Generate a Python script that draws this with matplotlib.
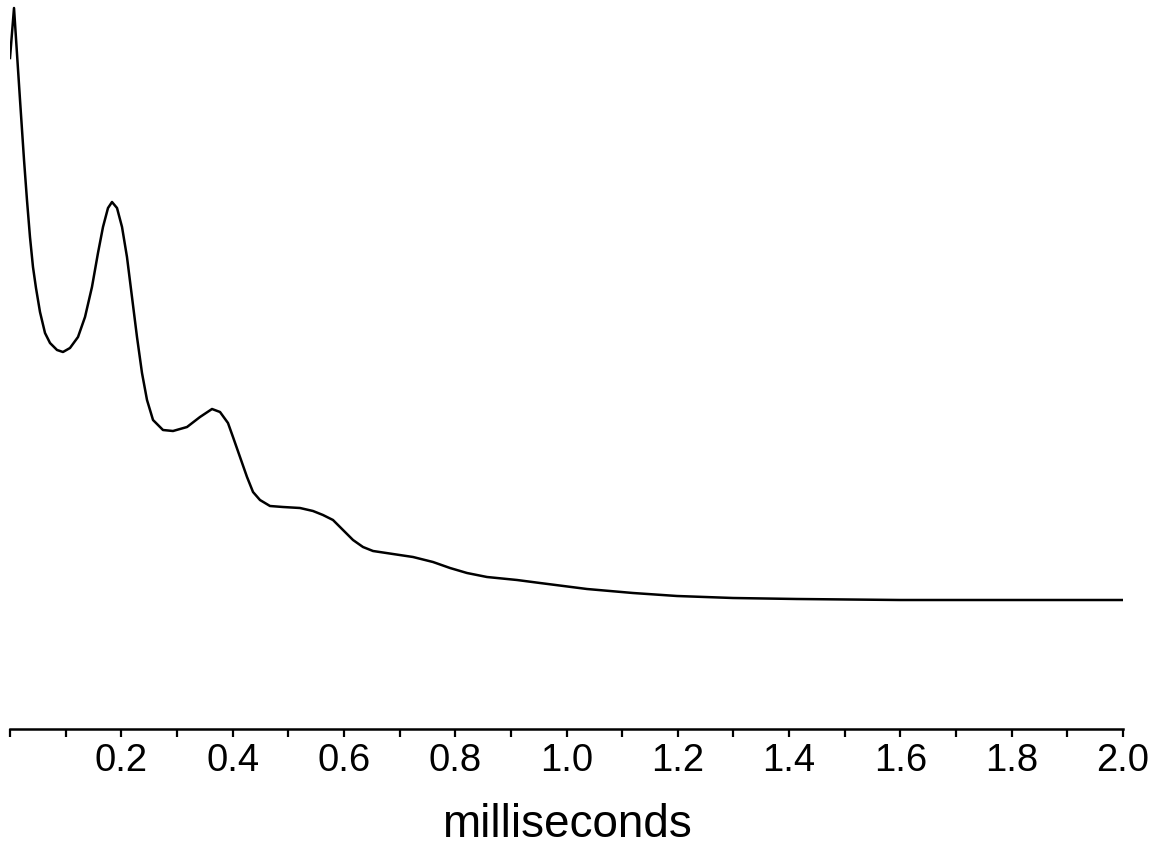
import numpy as np
import matplotlib.pyplot as plt

plt.rcParams['font.family'] = ['Liberation Sans', 'DejaVu Sans']

# time (ms) and signal amplitude (arbitrary units, baseline = 0)
time_ms = [0.0, 0.0072, 0.018, 0.0252, 0.0305, 0.0359, 0.0413, 0.0467, 0.0539, 0.0629, 0.0719,
           0.0845, 0.0952, 0.1078, 0.1222, 0.1348, 0.1473, 0.1581, 0.1671, 0.1761, 0.1833,
           0.1923, 0.2013, 0.2102, 0.2192, 0.2282, 0.2372, 0.2462, 0.2570, 0.2749, 0.2929,
           0.3181, 0.3414, 0.3630, 0.3774, 0.3917, 0.4007, 0.4133, 0.4259, 0.4367, 0.4492,
           0.4672, 0.4906, 0.5211, 0.5445, 0.5624, 0.5804, 0.5984, 0.6164, 0.6343, 0.6523,
           0.6882, 0.7242, 0.7601, 0.7907, 0.8212, 0.8571, 0.9111, 0.9524, 1.0368, 1.1195,
           1.1986, 1.2992, 1.4142, 1.5993, 2.0]
amplitude = [54.2, 59.2, 50.0, 44.0, 40.0, 36.3, 33.3, 31.2, 28.8, 26.7, 25.7,
             25.0, 24.8, 25.2, 26.3, 28.3, 31.3, 34.7, 37.3, 39.2, 39.8,
             39.2, 37.3, 34.3, 30.3, 26.3, 22.7, 20.0, 18.0, 17.0, 16.9,
             17.3, 18.3, 19.1, 18.8, 17.7, 16.3, 14.3, 12.3, 10.8, 10.0,
             9.4, 9.3, 9.2, 8.9, 8.5, 8.0, 7.0, 6.0, 5.3, 4.9,
             4.6, 4.3, 3.8, 3.2, 2.7, 2.3, 2.0, 1.7, 1.1, 0.7,
             0.4, 0.2, 0.1, 0.0, 0.0]

tick_pos = [round(0.1 * i, 1) for i in range(21)]
tick_labels = ["" if (i % 2 == 1 or i == 0) else f"{0.1 * i:.1f}" for i in range(21)]

fig = plt.figure(figsize=(11.62, 8.46), dpi=100)
ax = fig.add_axes([10 / 1162, (846 - 729) / 846, 1113 / 1162, 729 / 846])

ax.plot(time_ms, amplitude, color='black', linewidth=1.8, solid_joinstyle='round')

ax.set_xlim(0, 2.0)
ax.set_ylim(-12.9, 60.0)

for s in ['top', 'right', 'left']:
    ax.spines[s].set_visible(False)
ax.spines['bottom'].set_linewidth(1.8)
ax.set_yticks([])
ax.set_xticks(tick_pos)
ax.set_xticklabels(tick_labels)
ax.tick_params(axis='x', length=6, width=1.6, pad=4, labelsize=27.5)
ax.set_xlabel("milliseconds", fontsize=33, labelpad=17)

fig.savefig("out.png", dpi=100)
